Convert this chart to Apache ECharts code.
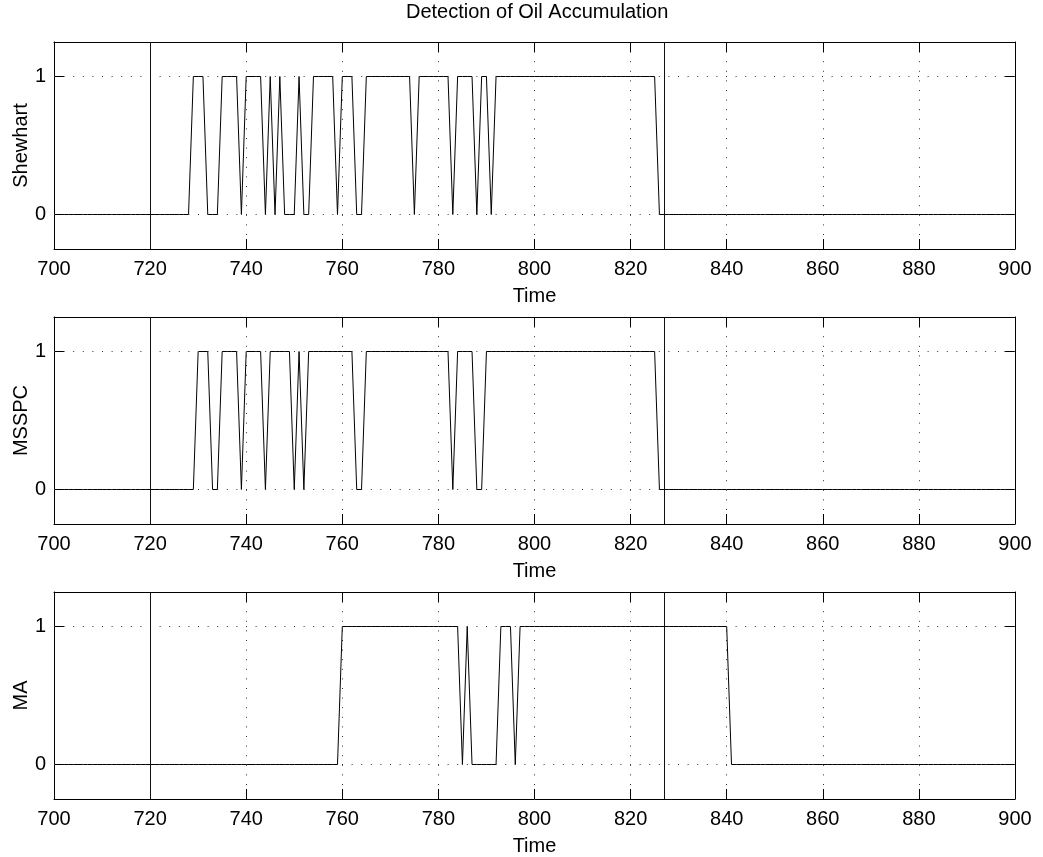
<!DOCTYPE html>
<html>
<head>
<meta charset="utf-8">
<script src="https://cdn.jsdelivr.net/npm/echarts@6/dist/echarts.min.js"></script>
<style>
html,body{margin:0;padding:0;background:#fff;}
#chart{width:1043px;height:857px;}
</style>
</head>
<body>
<div id="chart"></div>
<script>
// ---- data (time 700..900, one sample per time unit) ----
const startTime = 700;
const shewhart = [
  0,0,0,0,0,0,0,0,0,0,0,0,0,0,0,0,0,0,0,0,
  0,0,0,0,0,0,0,0,0,1,1,1,0,0,0,1,1,1,1,0,
  1,1,1,1,0,1,0,1,0,0,0,1,0,0,1,1,1,1,1,0,
  1,1,1,0,0,1,1,1,1,1,1,1,1,1,1,0,1,1,1,1,
  1,1,1,0,1,1,1,1,0,1,1,0,1,1,1,1,1,1,1,1,
  1,1,1,1,1,1,1,1,1,1,1,1,1,1,1,1,1,1,1,1,
  1,1,1,1,1,1,0,0,0,0,0,0,0,0,0,0,0,0,0,0,
  0,0,0,0,0,0,0,0,0,0,0,0,0,0,0,0,0,0,0,0,
  0,0,0,0,0,0,0,0,0,0,0,0,0,0,0,0,0,0,0,0,
  0,0,0,0,0,0,0,0,0,0,0,0,0,0,0,0,0,0,0,0,
  0
];
const msspc = [
  0,0,0,0,0,0,0,0,0,0,0,0,0,0,0,0,0,0,0,0,
  0,0,0,0,0,0,0,0,0,0,1,1,1,0,0,1,1,1,1,0,
  1,1,1,1,0,1,1,1,1,1,0,1,0,1,1,1,1,1,1,1,
  1,1,1,0,0,1,1,1,1,1,1,1,1,1,1,1,1,1,1,1,
  1,1,1,0,1,1,1,1,0,0,1,1,1,1,1,1,1,1,1,1,
  1,1,1,1,1,1,1,1,1,1,1,1,1,1,1,1,1,1,1,1,
  1,1,1,1,1,1,0,0,0,0,0,0,0,0,0,0,0,0,0,0,
  0,0,0,0,0,0,0,0,0,0,0,0,0,0,0,0,0,0,0,0,
  0,0,0,0,0,0,0,0,0,0,0,0,0,0,0,0,0,0,0,0,
  0,0,0,0,0,0,0,0,0,0,0,0,0,0,0,0,0,0,0,0,
  0
];
const ma = [
  0,0,0,0,0,0,0,0,0,0,0,0,0,0,0,0,0,0,0,0,
  0,0,0,0,0,0,0,0,0,0,0,0,0,0,0,0,0,0,0,0,
  0,0,0,0,0,0,0,0,0,0,0,0,0,0,0,0,0,0,0,0,
  1,1,1,1,1,1,1,1,1,1,1,1,1,1,1,1,1,1,1,1,
  1,1,1,1,1,0,1,0,0,0,0,0,0,1,1,1,0,1,1,1,
  1,1,1,1,1,1,1,1,1,1,1,1,1,1,1,1,1,1,1,1,
  1,1,1,1,1,1,1,1,1,1,1,1,1,1,1,1,1,1,1,1,
  1,0,0,0,0,0,0,0,0,0,0,0,0,0,0,0,0,0,0,0,
  0,0,0,0,0,0,0,0,0,0,0,0,0,0,0,0,0,0,0,0,
  0,0,0,0,0,0,0,0,0,0,0,0,0,0,0,0,0,0,0,0,
  0
];
const panelNames = ['Shewhart', 'MSSPC', 'MA'];
const panelSeries = [shewhart, msspc, ma];
const markerTimes = [720, 827];      // solid vertical marker lines
const yGridValues = [0, 1];          // dotted horizontal grid lines / y ticks
const xMin = 700, xMax = 900, xStep = 20;
const titleText = 'Detection of Oil Accumulation';
const xAxisName = 'Time';

// ---- layout ----
const FONT = 'Liberation Sans, Arial, Helvetica, sans-serif';
const FS = 20;
const gridTops = [42, 317, 592];
const gridH = 207;
const dotted = { color: '#333', width: 1, type: [1, 8.6] };

const grids = [], xAxes = [], yAxes = [], series = [];
panelSeries.forEach((vals, p) => {
  grids.push({ left: 54, right: 28, top: gridTops[p], height: gridH, containLabel: false, outerBoundsMode: 'none' });
  // bottom x axis (labels, dotted vertical grid)
  xAxes.push({
    type: 'value', gridIndex: p, min: xMin, max: xMax, interval: xStep, position: 'bottom',
    name: xAxisName, nameLocation: 'middle', nameGap: 37,
    nameTextStyle: { color: '#000', fontSize: FS, fontFamily: FONT },
    axisLine: { show: true, onZero: false, lineStyle: { color: '#000', width: 1 } },
    axisTick: { show: true, inside: true, length: 10, lineStyle: { color: '#000' } },
    axisLabel: { color: '#000', fontSize: FS, fontFamily: FONT, margin: 10, showMinLabel: true, showMaxLabel: true },
    splitLine: { show: true, lineStyle: dotted }
  });
  // top x axis (box + inward ticks)
  xAxes.push({
    type: 'value', gridIndex: p, min: xMin, max: xMax, interval: xStep, position: 'top',
    axisLine: { show: true, onZero: false, lineStyle: { color: '#000', width: 1 } },
    axisTick: { show: true, inside: true, length: 10, lineStyle: { color: '#000' } },
    axisLabel: { show: false }, splitLine: { show: false }
  });
  yAxes.push({
    type: 'value', gridIndex: p, min: -0.25, max: 1.25, interval: 0.25, position: 'left',
    name: panelNames[p], nameLocation: 'middle', nameGap: 23, nameRotate: 90, nameMoveOverlap: false,
    nameTextStyle: { color: '#000', fontSize: FS, fontFamily: FONT },
    axisLine: { show: true, onZero: false, lineStyle: { color: '#000', width: 1 } },
    axisTick: { show: true, inside: true, length: 10, customValues: yGridValues, lineStyle: { color: '#000' } },
    axisLabel: { color: '#000', fontSize: FS, fontFamily: FONT, margin: 8, customValues: yGridValues },
    splitLine: { show: false }
  });
  yAxes.push({
    type: 'value', gridIndex: p, min: -0.25, max: 1.25, interval: 0.25, position: 'right',
    axisLine: { show: true, onZero: false, lineStyle: { color: '#000', width: 1 } },
    axisTick: { show: true, inside: true, length: 10, customValues: yGridValues, lineStyle: { color: '#000' } },
    axisLabel: { show: false }, splitLine: { show: false }
  });
  const data = vals.map((v, i) => [startTime + i, v]);
  series.push({
    type: 'line', xAxisIndex: 2 * p, yAxisIndex: 2 * p, data: data,
    showSymbol: false, symbol: 'none', animation: false,
    lineStyle: { color: '#000', width: 1 },
    markLine: {
      silent: true, symbol: 'none', animation: false, label: { show: false },
      data: yGridValues.map(v => ({ yAxis: v, lineStyle: dotted }))
        .concat(markerTimes.map(t => ({ xAxis: t, lineStyle: { color: '#111', width: 1, type: 'solid' } })))
    },
    z: 3
  });
});

const chart = echarts.init(document.getElementById('chart'), null, { renderer: 'canvas' });
chart.setOption({
  backgroundColor: '#fff',
  animation: false,
  title: { text: titleText, left: 401, top: -3,
    textStyle: { color: '#000', fontSize: FS, fontWeight: 'normal', fontFamily: FONT } },
  grid: grids, xAxis: xAxes, yAxis: yAxes, series: series
});
</script>
</body>
</html>
